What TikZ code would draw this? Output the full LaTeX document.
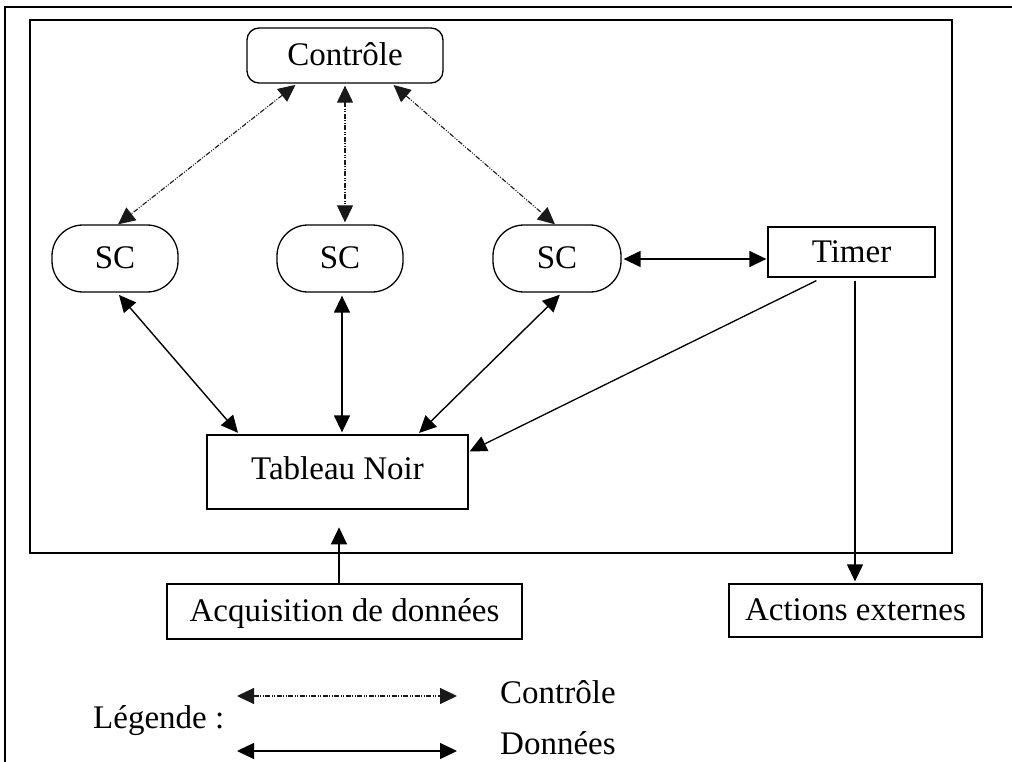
\documentclass[tikz,border=0pt]{standalone}
\usepackage{fontspec}
\setmainfont{Liberation Serif}
\usetikzlibrary{arrows.meta,calc}
\begin{document}
\begin{tikzpicture}[x=1pt,y=-1pt,
  >={Triangle[length=17pt,width=16pt]},
  txt/.style={font=\fontsize{33}{40}\selectfont},
  box/.style={txt,draw,line width=1.3pt,inner sep=0pt,text height=22pt,text depth=2pt},
  rbox/.style={box,rounded corners=12pt},
  scbox/.style={box,rounded corners=31pt,minimum width=126pt,minimum height=67pt},
  ctlarrow/.style={<->,line width=1.1pt,black!90,
    dash pattern=on 5pt off 1.5pt on 1pt off 1.5pt on 1pt off 1.5pt},
  dataarrow/.style={<->,line width=1.4pt},
  onearrow/.style={->,line width=1.3pt}
]
\useasboundingbox (0,0) rectangle (1012,762);

% page frame (top and left rules)
\draw[line width=2pt] (4,7) -- (1012,7);
\draw[line width=2pt] (5,6) -- (5,762);

% system frame
\draw[line width=1.5pt] (30,20) rectangle (952,553);

% nodes
\node[rbox,minimum width=196pt,minimum height=55pt] (ctl) at (345,55.5) {Contrôle};
\node[scbox] (sc1) at (115,258.5) {SC};
\node[scbox] (sc2) at (340,258.5) {SC};
\node[scbox,minimum width=128pt] (sc3) at (557,258.5) {SC};
\node[box,minimum width=167pt,minimum height=50pt] (timer) at (851.5,252) {Timer};
\node[box,text depth=8pt,minimum width=261pt,minimum height=74pt] (tn) at (337.5,472) {Tableau Noir};
\node[box,minimum width=355pt,minimum height=55pt] (acq) at (344.5,611.5) {Acquisition de données};
\node[box,minimum width=253pt,minimum height=53pt] (act) at (855.5,610.5) {Actions externes};

% control links
\draw[ctlarrow,shorten <=2pt] ($(ctl.south)+(-48,0)$) -- ($(sc1.north)+(3,0)$);
\draw[ctlarrow,shorten <=2pt,shorten >=2pt] (ctl.south) -- ($(sc2.north)+(5,0)$);
\draw[ctlarrow,shorten <=2pt] ($(ctl.south)+(47,0)$) -- ($(sc3.north)+(-2,0)$);

% data links
\draw[dataarrow,shorten <=3pt,shorten >=2pt] ($(sc1.south)+(2,0)$) -- ($(tn.north west)+(33,0)$);
\draw[dataarrow,shorten <=3pt,shorten >=2pt] ($(sc2.south)+(2,0)$) -- ($(tn.north)+(4.5,0)$);
\draw[dataarrow,shorten <=3pt,shorten >=2pt] ($(sc3.south)+(5,0)$) -- ($(tn.north east)+(-51,0)$);
\draw[dataarrow,shorten <=2pt,shorten >=1pt] (sc3.east |- 0,259) -- (timer.west |- 0,259);

% timer outputs
\draw[onearrow] ($(timer.south west)+(49,3)$) -- ($(tn.north east)+(1,17)$);
\coordinate (tdown) at ($(timer.south)+(3.5,3)$);
\draw[onearrow,shorten >=2pt] (tdown) -- (tdown |- act.north);

% acquisition input
\coordinate (ain) at ($(acq.north)+(-5.5,0)$);
\draw[onearrow] (ain) -- ++(0,-56);

% legend
\node[txt,anchor=base west,inner sep=0pt] (leg) at (93,728) {Légende :};
\coordinate (lc1) at (237,696);
\coordinate (lc2) at (457,696);
\coordinate (ld1) at (237,751);
\coordinate (ld2) at (457,751);
\draw[ctlarrow] (lc1) -- (lc2);
\draw[dataarrow] (ld1) -- (ld2);
\node[txt,anchor=base west,inner sep=0pt] (legc) at (500,703) {Contrôle};
\node[txt,anchor=base west,inner sep=0pt] (legd) at (500,754) {Données};
\end{tikzpicture}
\end{document}
